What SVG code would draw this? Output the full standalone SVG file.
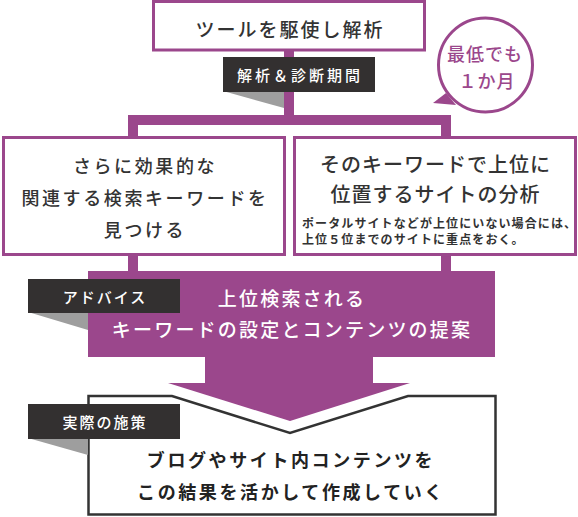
<svg xmlns="http://www.w3.org/2000/svg" width="578" height="517" viewBox="0 0 578 517">
<style>
text{font-family:"Noto Sans CJK JP","Noto Sans",sans-serif;dominant-baseline:central;text-anchor:middle}
.box{fill:#fff;stroke:#9b478c;stroke-width:3}
.main{font-size:18px;font-weight:500;fill:#333;letter-spacing:2.6px}
.lbl{fill:#333030}
.lbltxt{font-size:15px;font-weight:500;fill:#fff;letter-spacing:2px}
.tri{fill:#9e9e9e}
.pur{fill:#9b478c}
</style>
<g id="connectors">
<rect class="pur" x="284" y="50" width="10" height="70"/>
<rect class="pur" x="128" y="115" width="323" height="10"/>
<rect class="pur" x="128" y="115" width="10" height="157"/>
<rect class="pur" x="441" y="115" width="10" height="157"/>
</g>
<g id="top">
<rect class="box" x="153.5" y="1.5" width="271" height="48.5"/>
<text class="main" x="290" y="28" style="font-size:19px;letter-spacing:2px">ツールを駆使し解析</text>
</g>
<g id="label-period">
<polygon class="tri" points="223,91 284,91 284,108"/>
<rect class="lbl" x="223" y="57" width="152" height="35"/>
<text class="lbltxt" x="300" y="74.5" style="letter-spacing:3px">解析＆診断期間</text>
</g>
<g id="bubble">
<polygon class="pur" points="433,103 446,93 456,105"/>
<circle cx="485.5" cy="65" r="47" fill="#fff" stroke="#9b478c" stroke-width="3"/>
<text x="485" y="53" style="font-size:18px;font-weight:500;fill:#9b478c;letter-spacing:1px">最低でも</text>
<text x="487" y="80" style="font-size:18px;font-weight:500;fill:#9b478c;letter-spacing:1px">１か月</text>
</g>
<g id="left">
<rect class="box" x="3.5" y="137.5" width="281" height="117"/>
<text class="main" x="145" y="165">さらに効果的な</text>
<text class="main" x="145" y="197">関連する検索キーワードを</text>
<text class="main" x="145" y="229">見つける</text>
</g>
<g id="right">
<rect class="box" x="294.5" y="137.5" width="281" height="117"/>
<text class="main" x="435.5" y="163" style="font-size:20px;letter-spacing:1px">そのキーワードで上位に</text>
<text class="main" x="435.5" y="193" style="font-size:20px;letter-spacing:1px">位置するサイトの分析</text>
<text x="302" y="222" style="text-anchor:start;font-size:12px;font-weight:700;fill:#333;letter-spacing:1.1px">ポータルサイトなどが上位にいない場合には、</text>
<text x="302" y="238" style="text-anchor:start;font-size:12px;font-weight:700;fill:#333;letter-spacing:1.1px">上位５位までのサイトに重点をおく。</text>
</g>
<g id="advice">
<rect class="pur" x="88" y="271" width="407" height="86"/>
<rect class="pur" x="205" y="356" width="168" height="28"/>
<polygon class="pur" points="168,383 410,383 290,421"/>
<text class="main" x="292" y="297" style="fill:#fff;font-size:19px;letter-spacing:2.2px">上位検索される</text>
<text class="main" x="292" y="328" style="fill:#fff;font-size:19px;letter-spacing:2.2px">キーワードの設定とコンテンツの提案</text>
</g>
<g id="label-advice">
<polygon class="tri" points="28,312 88,312 88,330"/>
<rect class="lbl" x="28" y="279" width="152" height="34"/>
<text class="lbltxt" x="105" y="296">アドバイス</text>
</g>
<g id="bottom">
<path d="M88.5,396 L172,396 L290,433 L408,396 L495.5,396 L495.5,514.5 L88.5,514.5 Z" fill="#fff" stroke="#333" stroke-width="2.5"/>
<text class="main" x="291" y="459" style="font-weight:700;fill:#222">ブログやサイト内コンテンツを</text>
<text class="main" x="291" y="491" style="font-weight:700;fill:#222">この結果を活かして作成していく</text>
</g>
<g id="label-action">
<polygon class="tri" points="28,438 88,438 88,455"/>
<rect class="lbl" x="28" y="404" width="152" height="35"/>
<text class="lbltxt" x="105" y="421.5">実際の施策</text>
</g>
</svg>
